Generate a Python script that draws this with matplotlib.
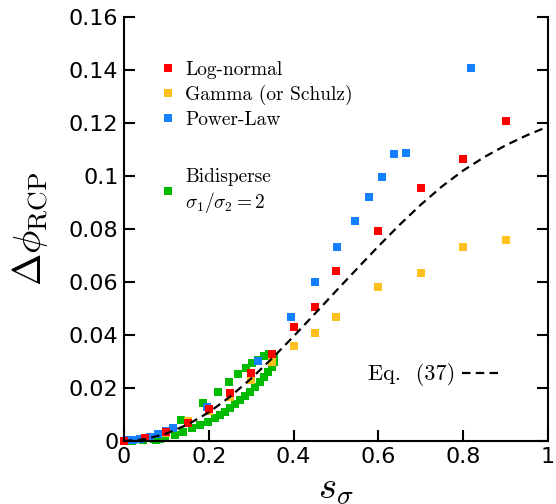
import numpy as np
import matplotlib
matplotlib.use('Agg')
import matplotlib.pyplot as plt
from matplotlib.lines import Line2D
from matplotlib.ticker import FuncFormatter

plt.rcParams['mathtext.fontset'] = 'cm'

# Log-normal
ln_x = [0, 0.05, 0.1, 0.15, 0.2, 0.25, 0.3, 0.35, 0.4, 0.45, 0.5, 0.6, 0.7, 0.8, 0.9]
ln_y = [0, 0.0013, 0.0033, 0.0067, 0.012, 0.0182, 0.0258, 0.0328, 0.043, 0.0505,
        0.0642, 0.0792, 0.0954, 0.1066, 0.1207]

# Gamma (or Schulz)
gam_x = [0, 0.05, 0.1, 0.15, 0.2, 0.25, 0.3, 0.35, 0.4, 0.45, 0.5, 0.6, 0.7, 0.8, 0.9]
gam_y = [0, 0.0012, 0.0032, 0.0075, 0.0115, 0.0167, 0.023, 0.030, 0.0358, 0.0407,
         0.0468, 0.058, 0.0634, 0.0732, 0.0759]

# Power-Law
pl_x = [0.01, 0.022, 0.038, 0.061, 0.08, 0.098, 0.115, 0.195, 0.315, 0.394, 0.45,
        0.503, 0.545, 0.578, 0.608, 0.636, 0.665, 0.818]
pl_y = [0.0002, 0.0005, 0.0007, 0.0016, 0.0028, 0.0038, 0.0048, 0.013, 0.0302, 0.0468,
        0.0599, 0.0731, 0.0829, 0.092, 0.0996, 0.1083, 0.1087, 0.1408]

# Bidisperse sigma1/sigma2 = 2 (upper sparse branch + lower dense branch)
bi_x = [0.02, 0.045, 0.07, 0.093, 0.134, 0.187, 0.221, 0.248, 0.270, 0.288, 0.303,
        0.317, 0.330, 0.343, 0.354,
        0.075, 0.085, 0.097, 0.12, 0.14, 0.16, 0.179, 0.199, 0.215, 0.226, 0.238,
        0.25, 0.262, 0.274, 0.285, 0.297, 0.309, 0.321, 0.330, 0.34, 0.348, 0.354]
bi_y = [0.0001, 0.0003, 0.0008, 0.0012, 0.0079, 0.0142, 0.0186, 0.0221, 0.0253, 0.0274,
        0.0293, 0.0306, 0.0321, 0.0328, 0.0316,
        0.0005, 0.0008, 0.001, 0.0023, 0.0035, 0.0048, 0.006, 0.0073, 0.0086, 0.0098,
        0.0111, 0.0123, 0.0138, 0.0155, 0.017, 0.0186, 0.0205, 0.0224, 0.0243, 0.0262,
        0.028, 0.030]

# Eq. (37)
eq_x = [0, 0.05, 0.1, 0.15, 0.2, 0.25, 0.3, 0.35, 0.4, 0.45, 0.5, 0.55, 0.6, 0.65,
        0.7, 0.75, 0.8, 0.85, 0.9, 0.95, 1.0]
eq_y = [0, 0.0007, 0.0028, 0.0062, 0.0108, 0.0167, 0.0236, 0.0313, 0.0395, 0.048,
        0.0566, 0.0651, 0.0735, 0.0816, 0.0892, 0.0961, 0.1021, 0.1072, 0.1116, 0.1154,
        0.1187]

xticks = [0, 0.2, 0.4, 0.6, 0.8, 1]
yticks = [0, 0.02, 0.04, 0.06, 0.08, 0.1, 0.12, 0.14, 0.16]

red = '#ff0000'
orange = '#ffbf1f'
blue = '#1480ff'
green = '#00bb00'

fig = plt.figure(figsize=(5.56, 5.04), dpi=100)
ax = fig.add_axes([0.223, 0.125, 0.7626, 0.841])

ms = 5.2
ax.plot(bi_x, bi_y, 's', color=green, ms=ms, mew=0, clip_on=False)
ax.plot(pl_x, pl_y, 's', color=blue, ms=ms, mew=0, clip_on=False)
ax.plot(gam_x, gam_y, 's', color=orange, ms=ms, mew=0, clip_on=False)
ax.plot(ln_x, ln_y, 's', color=red, ms=ms, mew=0, clip_on=False)
eq_line, = ax.plot(eq_x, eq_y, color='black', lw=1.6, linestyle=(0, (3.8, 2.4)))

ax.set_xlim(0, 1)
ax.set_ylim(0, 0.16)
ax.set_xticks(xticks)
ax.set_yticks(yticks)
fmt = FuncFormatter(lambda v, p: f'{v:g}')
ax.xaxis.set_major_formatter(fmt)
ax.yaxis.set_major_formatter(fmt)
ax.tick_params(direction='in', length=8, width=1.5, labelsize=16, pad=4)
ax.tick_params(axis='y', right=True)
ax.spines['top'].set_visible(False)
for s in ['left', 'right', 'bottom']:
    ax.spines[s].set_linewidth(1.5)

ax.set_xlabel(r'$s_\sigma$', fontsize=28, labelpad=2)
ax.set_ylabel(r'$\Delta\phi_{\rm RCP}$', fontsize=28, labelpad=13)

handles = [Line2D([], [], ls='', marker='s', color=c, ms=ms, mew=0)
           for c in [red, orange, blue]]
blank = Line2D([], [], ls='')
handles += [blank, Line2D([], [], ls='', marker='s', color=green, ms=ms, mew=0)]
labels = ['Log-normal', 'Gamma (or Schulz)', 'Power-Law', ' ',
          'Bidisperse\n' + r'$\sigma_1/\sigma_2 = 2$']
leg1 = ax.legend(handles, labels, loc='upper left', bbox_to_anchor=(0.085, 0.896),
                 frameon=False, prop={'family': 'cmr10', 'size': 14},
                 handlelength=0.8, handletextpad=0.5, labelspacing=0.3,
                 borderpad=0, borderaxespad=0)
leg1.get_texts()[3].set_fontsize(23)
ax.add_artist(leg1)

ax.legend([eq_line], ['Eq.  (37)'], loc='center right', bbox_to_anchor=(0.882, 0.156),
          frameon=False, prop={'family': 'cmr10', 'size': 16}, markerfirst=False,
          handlelength=1.6, handletextpad=0.3, borderpad=0, borderaxespad=0)

fig.savefig('out.png', dpi=100)
